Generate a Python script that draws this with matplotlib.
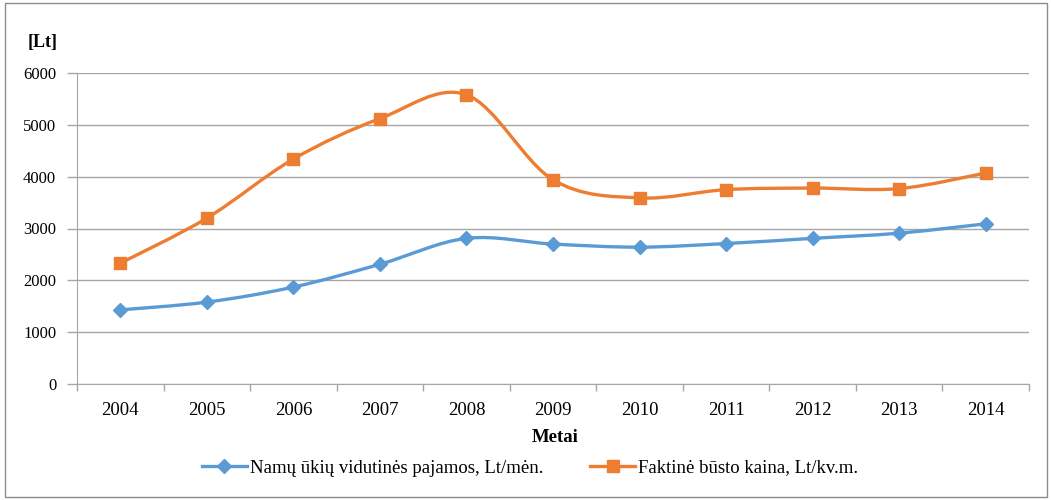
import matplotlib

matplotlib.use("Agg")
import matplotlib.pyplot as plt
import numpy as np
from matplotlib.lines import Line2D
from matplotlib.patches import PathPatch, Rectangle
from matplotlib.path import Path

years = [2004, 2005, 2006, 2007, 2008, 2009, 2010, 2011, 2012, 2013, 2014]
income = [1430, 1580, 1870, 2310, 2810, 2700, 2640, 2710, 2810, 2910, 3090]
price = [2330, 3200, 4340, 5120, 5580, 3940, 3590, 3750, 3780, 3770, 4070]
income_label = "Namų ūkių vidutinės pajamos, Lt/mėn."
price_label = "Faktinė būsto kaina, Lt/kv.m."

BLUE = "#5B9BD5"
ORANGE = "#ED7D31"
GRID = "#A6A6A6"
TEXT = "#000000"

plt.rcParams["font.family"] = ["Liberation Serif", "DejaVu Serif"]


def smooth_path(xs, ys):
    # Excel-like smoothed line: cubic Bezier segments, Catmull-Rom tangents
    pts = np.column_stack([xs, ys]).astype(float)
    n = len(pts)
    verts = [pts[0]]
    codes = [Path.MOVETO]
    for i in range(n - 1):
        p0 = pts[max(i - 1, 0)]
        p1 = pts[i]
        p2 = pts[i + 1]
        p3 = pts[min(i + 2, n - 1)]
        c1 = p1 + (p2 - p0) / 6.0
        c2 = p2 - (p3 - p1) / 6.0
        verts += [c1, c2, p2]
        codes += [Path.CURVE4] * 3
    return Path(verts, codes)


fig = plt.figure(figsize=(10.51, 5.0), dpi=100)
fig.patch.set_facecolor("white")
fig.patches.append(
    Rectangle((5 / 1051, 3 / 500), 1042 / 1051, 494 / 500, transform=fig.transFigure,
              fill=False, edgecolor="#8C8C8C", linewidth=1.0)
)

ax = fig.add_axes([77 / 1051, 116 / 500, 952 / 1051, 311 / 500])
ax.set_xlim(years[0] - 0.5, years[-1] + 0.5)
ax.set_ylim(0, 6000)

for ys, color, marker, size in (
    (income, BLUE, "D", 7.5),
    (price, ORANGE, "s", 8.5),
):
    ax.add_patch(PathPatch(smooth_path(years, ys), fill=False, edgecolor=color,
                           linewidth=2.4, zorder=3, capstyle="round", joinstyle="round"))
    ax.plot(years, ys, linestyle="none", marker=marker, markersize=size,
            markerfacecolor=color, markeredgecolor=color, zorder=4)

ax.set_yticks(np.arange(0, 6001, 1000))
ax.set_xticks(years)
ax.set_xticks([y - 0.5 for y in years] + [years[-1] + 0.5], minor=True)
ax.tick_params(axis="x", which="major", length=0, pad=13, labelsize=13.5, colors=TEXT)
ax.tick_params(axis="x", which="minor", length=5, width=1, color=GRID)
ax.tick_params(axis="y", length=7, width=1, color=GRID, pad=8, labelsize=12)
ax.tick_params(axis="y", colors=GRID, labelcolor=TEXT)
ax.grid(axis="y", color=GRID, linewidth=1.0)
ax.set_axisbelow(True)
ax.spines[["top", "right"]].set_visible(False)
ax.spines["left"].set_color(GRID)
ax.spines["bottom"].set_color(GRID)

fig.text(43 / 1051, 1 - 43 / 500, "[Lt]", ha="center", va="center",
         fontsize=13, fontweight="bold")
fig.text(555 / 1051, 1 - 437 / 500, "Metai", ha="center", va="center",
         fontsize=13.5, fontweight="bold")

handles = [
    Line2D([], [], color=BLUE, linewidth=2.4, marker="D", markersize=7),
    Line2D([], [], color=ORANGE, linewidth=2.4, marker="s", markersize=8),
]
fig.legend(handles, [income_label, price_label], loc="center",
           bbox_to_anchor=(530 / 1051, 1 - 468 / 500), ncol=2, frameon=False,
           fontsize=13.5, handlelength=2.4, handletextpad=0.15, columnspacing=2.5)

fig.savefig("out.png", dpi=100, facecolor="white")
